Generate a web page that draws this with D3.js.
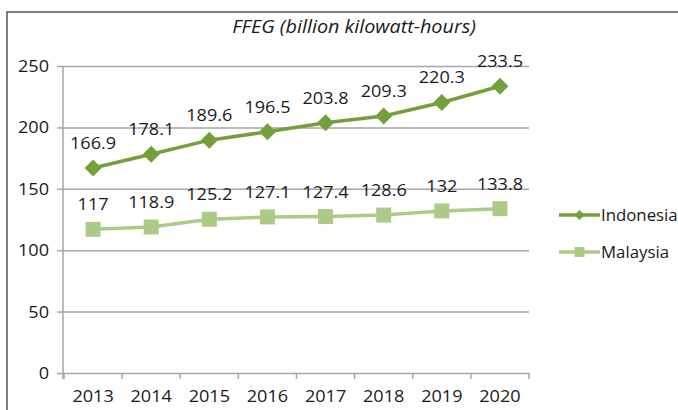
<!DOCTYPE html>
<meta charset="utf-8" />
<head>
  <script src="https://d3js.org/d3.v7.min.js"></script>
  <style>
    body { margin: 0; background: #fff; }
    text { font-family: "Open Sans", sans-serif; fill: #1a1a1a; }
  </style>
</head>
<body>
  <div id="chart"></div>
</body>
<script>
  // data
  const years = ["2013", "2014", "2015", "2016", "2017", "2018", "2019", "2020"];
  const indonesia = [166.9, 178.1, 189.6, 196.5, 203.8, 209.3, 220.3, 233.5];
  const malaysia = [117, 118.9, 125.2, 127.1, 127.4, 128.6, 132, 133.8];
  const yTicks = [0, 50, 100, 150, 200, 250];
  const title = "FFEG (billion kilowatt-hours)";

  const W = 678, H = 410;
  const plot = { left: 64, right: 529, top: 66, bottom: 373 };
  const sx = 1.13; // the original text is a bit wider than it is tall

  const series = [
    { name: "Indonesia", values: indonesia, color: "#74a03c", shape: "diamond" },
    { name: "Malaysia", values: malaysia, color: "#abcb86", shape: "square" }
  ];

  const svg = d3.select("#chart").append("svg")
    .attr("width", W).attr("height", H);

  svg.append("rect").attr("width", W).attr("height", H).attr("fill", "#fff");

  // outer frame (runs off the right and bottom)
  svg.append("rect")
    .attr("x", 7).attr("y", 12)
    .attr("width", W + 20).attr("height", H + 20)
    .attr("fill", "none").attr("stroke", "#555").attr("stroke-width", 1.5);

  var x = d3.scaleBand().domain(years).range([plot.left, plot.right]).padding(0);
  var y = d3.scaleLinear().domain([0, 250]).range([plot.bottom, plot.top]);

  function label(parent, px, py, str, anchor, size, k) {
    return parent.append("text")
      .attr("transform", "translate(" + px + "," + py + ") scale(" + (k || sx) + ",1)")
      .attr("text-anchor", anchor)
      .style("font-size", size + "px")
      .text(str);
  }

  // gridlines + y ticks
  var yAxis = svg.append("g")
    .attr("transform", "translate(" + (plot.left - 1) + ",0)")
    .call(d3.axisLeft(y).tickValues(yTicks).tickSize(6).tickSizeOuter(0).tickFormat(""));
  yAxis.select(".domain").attr("stroke", "#a6a6a6").attr("stroke-width", 1.5)
    .attr("d", "M0," + plot.top + "V" + (plot.bottom + 6));
  yAxis.selectAll(".tick line").attr("stroke", "#a6a6a6").attr("stroke-width", 1.5);
  yAxis.selectAll(".tick").append("line")
    .attr("x1", 0).attr("x2", plot.right - plot.left + 1)
    .attr("stroke", "#a6a6a6").attr("stroke-width", 1.5);
  yTicks.forEach((t) => {
    label(svg, plot.left - 15, y(t) + 6, t, "end", 16);
  });

  // x axis with ticks at category boundaries
  var xg = svg.append("g");
  var edges = years.map((d) => x(d)).concat([x(years[years.length - 1]) + x.bandwidth()]);
  xg.selectAll("line.edge").data(edges).enter().append("line")
    .attr("x1", (d) => d).attr("x2", (d) => d)
    .attr("y1", plot.bottom).attr("y2", plot.bottom + 6)
    .attr("stroke", "#a6a6a6").attr("stroke-width", 1.5);
  years.forEach((d) => {
    label(xg, x(d) + x.bandwidth() / 2, plot.bottom + 29, d, "middle", 16);
  });

  // title
  label(svg, 354, 33, title, "middle", 18, 1.1).style("font-style", "italic");

  function marker(g, shape, size, color) {
    if (shape === "diamond") {
      g.append("path")
        .attr("d", "M0," + (-size / 2) + "L" + (size / 2) + ",0L0," + (size / 2) + "L" + (-size / 2) + ",0Z")
        .attr("fill", color);
    } else {
      g.append("rect")
        .attr("x", -size / 2).attr("y", -size / 2)
        .attr("width", size).attr("height", size)
        .attr("fill", color);
    }
  }

  var cx = (i) => x(years[i]) + x.bandwidth() / 2;
  var line = d3.line().x((d, i) => cx(i)).y((d) => y(d));

  series.forEach((s) => {
    svg.append("path")
      .datum(s.values)
      .attr("d", line)
      .attr("fill", "none")
      .attr("stroke", s.color)
      .attr("stroke-width", 3.5);

    s.values.forEach((v, i) => {
      var g = svg.append("g").attr("transform", "translate(" + cx(i) + "," + y(v) + ")");
      marker(g, s.shape, s.shape === "diamond" ? 17 : 15, s.color);
      label(svg, cx(i), y(v) - 19, v, "middle", 16);
    });
  });

  // legend
  series.forEach((s, i) => {
    var ly = 215 + i * 37;
    var g = svg.append("g").attr("transform", "translate(559," + ly + ")");
    g.append("line").attr("x1", 0).attr("x2", 41)
      .attr("stroke", s.color).attr("stroke-width", 3.5);
    var m = g.append("g").attr("transform", "translate(20.5,0)");
    marker(m, s.shape, 10, s.color);
    label(g, 42, 6, s.name, "start", 16, 1.05);
  });
</script>
